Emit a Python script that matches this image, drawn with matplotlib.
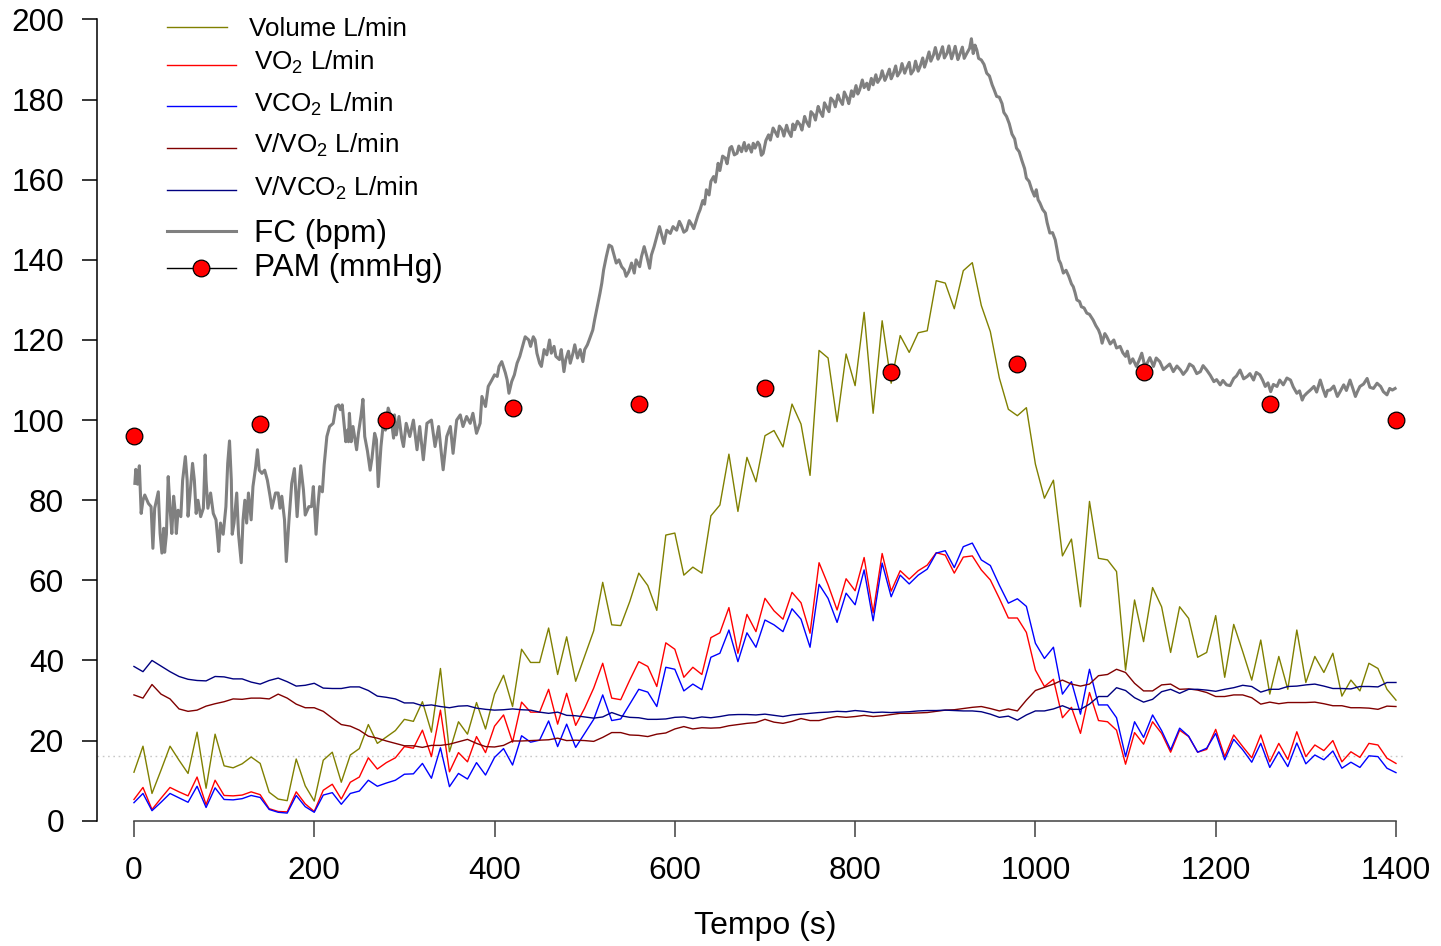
import matplotlib
matplotlib.use('Agg')
import matplotlib.pyplot as plt
from matplotlib.lines import Line2D
import numpy as np

plt.rcParams['font.family'] = ['Liberation Sans', 'DejaVu Sans']
plt.rcParams['mathtext.fontset'] = 'custom'
plt.rcParams['mathtext.rm'] = 'Liberation Sans'
plt.rcParams['mathtext.default'] = 'regular'

# ---------------- data ----------------
tempo = np.arange(0, 1401, 10)  # breath samples every 10 s

volume = [12.1, 18.6, 6.8, 12.6, 18.6, 15.1, 11.8, 22.1, 8.1, 21.6,
          13.7, 13.2, 14.2, 15.9, 14.3, 7.1, 5.4, 5.0, 15.4, 8.7,
          4.9, 15.1, 17.1, 9.6, 16.4, 18.0, 24.0, 19.3, 20.9, 22.5,
          25.3, 24.8, 29.7, 22.1, 38.0, 17.2, 24.7, 21.6, 29.5, 22.9,
          31.6, 36.3, 28.5, 42.8, 39.5, 39.5, 48.1, 36.5, 45.9, 34.8,
          41.1, 47.4, 59.5, 48.9, 48.7, 54.7, 61.8, 58.7, 52.5, 71.3,
          71.8, 61.3, 63.3, 61.8, 76.1, 78.8, 91.5, 77.2, 90.7, 84.6,
          96.1, 97.4, 93.3, 104.0, 99.0, 86.2, 117.4, 115.5, 99.6, 116.5,
          108.6, 126.9, 101.7, 124.8, 109.2, 121.1, 116.9, 121.8, 122.3, 134.8,
          134.2, 127.8, 137.3, 139.3, 128.6, 122.1, 110.5, 102.7, 101.1, 103.1,
          89.0, 80.5, 85.0, 66.1, 70.3, 53.4, 79.7, 65.5, 65.1, 62.2,
          37.6, 55.1, 44.7, 58.2, 53.4, 42.0, 53.4, 50.5, 40.8, 42.0,
          51.2, 35.8, 49.0, 42.2, 35.1, 45.1, 31.6, 41.0, 32.8, 47.6,
          34.5, 41.0, 37.0, 41.8, 31.1, 35.1, 32.4, 39.3, 38.0, 32.8,
          30.1]

vo2 = [5.3, 8.3, 2.8, 5.6, 8.3, 7.2, 6.2, 10.9, 4.0, 10.1,
       6.3, 6.2, 6.4, 7.2, 6.5, 3.0, 2.3, 2.2, 7.2, 4.2,
       2.3, 7.6, 9.1, 5.4, 9.6, 10.9, 15.7, 12.9, 14.5, 15.7,
       18.5, 18.1, 22.6, 16.0, 27.6, 12.2, 17.0, 14.7, 21.0, 17.0,
       23.6, 26.4, 19.6, 29.6, 27.1, 27.1, 32.8, 24.1, 31.8, 23.8,
       28.1, 33.1, 39.3, 30.6, 30.2, 35.1, 39.7, 38.5, 33.5, 44.4,
       42.8, 35.8, 38.3, 36.5, 45.7, 46.9, 53.2, 41.8, 51.5, 47.2,
       55.5, 52.4, 50.3, 57.0, 54.4, 46.8, 64.4, 58.9, 52.6, 60.4,
       57.4, 65.7, 51.9, 66.7, 57.3, 62.4, 60.3, 62.4, 63.8, 66.9,
       66.3, 61.8, 65.8, 66.1, 62.6, 60.1, 55.5, 50.6, 50.6, 47.0,
       37.6, 33.5, 35.3, 25.7, 28.3, 21.8, 32.0, 25.0, 24.7, 22.6,
       14.1, 22.0, 19.1, 24.7, 21.8, 17.1, 22.6, 21.0, 17.1, 17.8,
       22.8, 16.0, 21.4, 18.5, 15.7, 21.4, 14.7, 19.3, 15.3, 22.2,
       16.0, 18.9, 17.5, 20.0, 14.7, 17.2, 15.8, 19.3, 18.9, 15.6,
       14.3]

vco2 = [4.5, 6.8, 2.5, 4.6, 6.8, 5.7, 4.6, 8.6, 3.3, 8.2,
        5.3, 5.2, 5.5, 6.3, 5.8, 2.8, 2.1, 1.9, 6.3, 3.5,
        2.1, 6.4, 7.0, 4.1, 6.8, 7.4, 10.1, 8.6, 9.4, 10.1,
        11.6, 11.7, 14.3, 10.6, 18.2, 8.5, 11.8, 10.4, 14.5, 11.4,
        15.8, 18.0, 13.9, 21.2, 19.6, 20.1, 24.9, 18.5, 24.1, 18.3,
        21.8, 25.3, 31.4, 25.0, 25.4, 29.1, 32.8, 32.1, 28.5, 38.3,
        37.8, 32.4, 34.1, 32.7, 40.8, 41.8, 47.6, 39.7, 46.9, 43.3,
        50.1, 48.9, 47.2, 52.9, 50.3, 43.3, 59.0, 55.5, 49.5, 56.8,
        53.9, 62.6, 49.9, 64.3, 55.9, 61.3, 59.1, 61.3, 62.8, 66.8,
        67.4, 63.2, 68.4, 69.3, 65.1, 63.7, 58.8, 54.3, 55.4, 53.5,
        44.3, 40.5, 43.3, 31.6, 34.7, 26.6, 37.8, 28.9, 28.9, 25.7,
        16.0, 24.7, 20.8, 26.4, 22.5, 17.7, 23.1, 21.1, 17.1, 18.1,
        21.8, 15.2, 20.3, 17.7, 14.6, 19.3, 13.3, 17.2, 13.5, 19.4,
        14.2, 16.4, 15.2, 17.4, 13.1, 14.6, 13.3, 16.2, 16.0, 13.1,
        12.0]

v_vo2 = [31.4, 30.6, 34.0, 31.6, 30.4, 27.9, 27.3, 27.6, 28.6, 29.2,
         29.7, 30.4, 30.3, 30.6, 30.6, 30.4, 31.6, 30.6, 29.1, 28.2,
         28.2, 27.3, 25.6, 24.0, 23.6, 22.6, 21.1, 20.6, 19.9, 19.3,
         18.7, 18.7, 18.3, 18.8, 18.8, 19.1, 19.7, 20.3, 19.3, 18.5,
         18.4, 18.8, 19.9, 19.9, 20.0, 20.1, 20.2, 20.6, 20.0, 20.1,
         20.0, 19.8, 20.8, 22.0, 22.0, 21.4, 21.3, 21.0, 21.6, 21.9,
         22.9, 23.5, 22.9, 23.2, 23.1, 23.2, 23.7, 24.0, 24.3, 24.5,
         25.3, 24.6, 24.3, 24.8, 25.5, 25.0, 25.0, 25.6, 26.0, 25.8,
         26.0, 26.3, 26.0, 26.2, 26.5, 26.8, 26.8, 26.9, 27.0, 27.3,
         27.6, 27.7, 28.0, 28.3, 28.5, 28.0, 27.4, 27.9, 27.4, 30.1,
         32.5, 33.3, 34.1, 35.1, 34.1, 33.6, 34.1, 36.2, 36.5, 37.8,
         37.0, 34.3, 32.4, 32.4, 33.9, 34.1, 32.8, 32.9, 32.6, 32.0,
         31.0, 31.0, 31.4, 31.4, 30.7, 29.1, 29.6, 29.2, 29.5, 29.5,
         29.5, 29.6, 29.2, 28.7, 28.7, 28.2, 28.2, 28.1, 27.8, 28.6,
         28.5]

v_vco2 = [38.5, 37.2, 40.0, 38.6, 37.2, 36.0, 35.3, 35.0, 34.9, 36.0,
          35.9, 35.4, 35.4, 34.6, 34.1, 35.0, 35.6, 34.7, 33.6, 33.8,
          34.3, 33.1, 33.0, 33.0, 33.4, 33.4, 32.5, 31.1, 30.8, 30.4,
          29.4, 29.4, 28.7, 28.9, 28.5, 28.2, 28.6, 28.7, 28.1, 27.8,
          27.6, 27.7, 27.9, 27.7, 27.6, 27.1, 26.8, 27.1, 26.3, 26.2,
          25.9, 25.6, 25.9, 27.0, 26.2, 25.8, 25.7, 25.3, 25.3, 25.4,
          25.8, 25.9, 25.5, 25.9, 25.7, 26.0, 26.4, 26.5, 26.5, 26.4,
          26.6, 26.3, 26.0, 26.4, 26.6, 26.8, 27.0, 27.1, 27.3, 27.2,
          27.5, 27.3, 27.0, 27.1, 27.0, 27.1, 27.2, 27.4, 27.5, 27.5,
          27.6, 27.5, 27.4, 27.4, 27.2, 26.6, 25.8, 26.1, 25.1, 26.4,
          27.4, 27.4, 27.9, 28.7, 27.8, 27.8, 29.1, 31.0, 31.0, 33.2,
          32.5, 30.7, 29.6, 30.3, 32.2, 32.8, 31.8, 32.8, 32.8, 32.6,
          32.3, 32.8, 33.2, 33.8, 33.5, 32.1, 32.8, 32.8, 33.5, 33.6,
          33.9, 34.1, 33.6, 33.0, 33.0, 32.9, 33.5, 33.5, 33.4, 34.5,
          34.5]

# heart rate (time s, bpm)
fc_pontos = [
    (1, 84.2), (2, 87.7), (4, 84.0), (6, 88.6), (8, 76.7), (10, 80.0), (12, 81.3), (16, 79.2),
    (19, 78.4), (21, 68.0), (23, 78.0), (25, 80.0), (27, 82.1), (29, 71.7), (31, 66.8), (33, 73.0),
    (34, 67.0), (36, 71.5), (38, 85.9), (40, 78.0), (42, 71.7), (44, 81.0), (46, 76.7), (47, 71.7),
    (49, 77.5), (52, 75.9), (54, 85.0), (57, 90.9), (59, 85.0), (60, 76.0), (62, 81.0), (65, 89.2),
    (67, 85.0), (69, 76.7), (71, 80.0), (74, 75.9), (77, 78.0), (79, 91.3), (80, 85.0), (82, 78.0),
    (85, 81.8), (88, 76.7), (91, 75.1), (93, 70.1), (94, 67.2), (96, 74.3), (99, 71.5), (102, 78.4),
    (104, 89.2), (106, 94.8), (108, 85.0), (109, 71.5), (111, 74.3), (114, 81.8), (116, 71.5), (119, 64.4),
    (121, 75.1), (123, 80.0), (125, 74.3), (127, 81.8), (130, 75.1), (132, 83.4), (135, 88.3), (137, 92.6),
    (139, 87.5), (142, 86.7), (145, 87.5), (148, 85.0), (151, 81.0), (153, 78.0), (157, 81.8), (160, 81.8),
    (162, 78.0), (164, 81.0), (167, 75.1), (169, 64.7), (172, 75.1), (175, 84.2), (178, 87.9), (181, 75.9),
    (183, 82.6), (185, 88.6), (188, 82.6), (190, 76.3), (194, 78.4), (197, 78.4), (199, 83.4), (202, 71.5),
    (204, 78.4), (206, 83.4), (209, 82.1), (211, 88.8), (214, 95.9), (217, 98.4), (221, 99.2), (224, 103.4),
    (227, 103.8), (229, 102.6), (231, 103.8), (233, 99.2), (235, 94.6), (237, 97.5), (238, 94.6), (239, 101.7),
    (241, 94.6), (243, 98.4), (247, 92.6), (249, 96.7), (252, 101.3), (254, 105.2), (256, 95.9), (259, 92.3),
    (262, 87.5), (264, 90.4), (267, 96.7), (269, 95.1), (271, 83.4), (274, 93.4), (277, 100.0), (279, 97.5),
    (282, 103.0), (285, 100.9), (288, 95.5), (289, 101.3), (291, 96.3), (294, 100.9), (297, 95.5), (299, 93.4),
    (302, 99.2), (306, 95.9), (310, 100.0), (314, 92.6), (317, 98.4), (321, 90.1), (325, 99.2), (330, 100.0),
    (334, 93.4), (338, 98.4), (341, 91.7), (343, 87.6), (347, 95.9), (351, 98.4), (354, 91.7), (358, 100.0),
    (362, 101.3), (365, 98.4), (369, 100.9), (373, 99.2), (376, 101.7), (380, 96.7), (384, 99.2), (386, 105.9),
    (390, 103.4), (393, 108.4), (397, 110.0), (400, 111.3), (403, 110.9), (405, 113.4), (408, 114.6), (412, 111.8),
    (414, 110.0), (416, 106.7), (419, 109.6), (422, 111.3), (425, 114.2), (428, 115.9), (431, 118.4), (434, 120.8),
    (438, 120.0), (440, 118.4), (443, 120.8), (445, 120.0), (447, 116.7), (450, 114.2), (452, 113.4), (455, 117.6),
    (458, 116.3), (461, 120.0), (463, 116.7), (466, 118.4), (468, 115.9), (472, 115.1), (474, 117.6), (477, 112.1),
    (479, 115.1), (482, 117.2), (484, 114.2), (487, 116.7), (489, 118.8), (492, 115.5), (495, 117.6), (498, 114.6),
    (500, 117.6), (503, 118.8), (505, 120.0), (509, 122.5), (511, 125.0), (514, 128.3), (517, 131.7), (519, 134.2),
    (521, 137.5), (524, 140.8), (527, 143.7), (530, 143.3), (533, 140.8), (535, 139.2), (538, 140.0), (541, 138.3),
    (544, 137.5), (546, 135.9), (549, 137.1), (552, 139.2), (555, 136.7), (557, 140.0), (561, 138.3), (563, 140.8),
    (566, 143.3), (569, 140.8), (572, 137.9), (574, 141.2), (577, 143.3), (580, 145.8), (583, 148.3), (585, 146.6),
    (588, 144.1), (591, 147.4), (595, 146.6), (598, 148.3), (602, 147.4), (605, 149.6), (607, 148.7), (610, 146.9),
    (613, 147.4), (616, 149.8), (618, 149.1), (621, 147.8), (624, 150.0), (626, 151.4),
    (628, 152.5), (631, 154.8), (633, 153.9), (635, 157.5), (638, 156.2), (640, 159.6), (643, 160.8), (645, 159.4),
    (648, 164.1), (650, 162.3), (653, 165.9), (656, 165.4), (658, 164.0), (661, 167.9), (663, 168.3), (666, 166.2),
    (669, 166.6), (671, 168.4), (674, 167.0), (677, 169.3), (679, 167.2), (682, 168.7), (685, 166.9), (687, 169.1),
    (689, 167.9), (692, 169.4), (694, 168.7), (696, 166.1), (698, 166.6), (701, 169.8), (704, 171.2), (706, 169.9),
    (709, 172.9), (711, 172.1), (714, 170.8), (716, 173.4), (719, 172.5), (721, 170.9), (724, 173.6), (726, 172.1),
    (729, 170.8), (731, 173.9), (733, 172.5), (736, 174.6), (739, 173.7), (741, 172.4), (744, 175.8), (746, 174.5),
    (749, 173.3), (751, 177.0), (754, 176.2), (756, 174.9), (759, 178.3), (761, 177.1), (764, 175.8), (766, 179.2),
    (768, 178.3), (771, 177.0), (773, 180.4), (776, 179.6), (778, 178.2), (781, 181.2), (783, 180.0), (786, 178.8),
    (788, 181.9), (791, 180.4), (793, 179.0), (796, 182.2), (798, 180.8), (801, 183.5), (803, 181.4), (805, 182.4),
    (808, 184.9), (810, 183.0), (813, 184.1), (815, 182.5), (818, 185.3), (820, 183.7), (823, 186.2), (825, 184.3),
    (828, 185.4), (830, 187.2), (833, 184.8), (835, 185.8), (838, 187.6), (840, 185.2), (842, 186.2), (845, 188.4),
    (847, 185.9), (850, 187.0), (852, 189.0), (855, 186.6), (857, 187.8), (860, 189.3), (862, 186.4), (865, 187.4),
    (867, 189.6), (870, 187.1), (872, 188.2), (875, 190.4), (877, 188.1), (879, 189.5), (882, 191.9), (884, 189.6),
    (887, 191.2), (889, 193.0), (892, 190.1), (894, 191.2), (897, 193.2), (899, 190.4), (902, 191.6), (904, 193.4),
    (907, 190.2), (909, 191.6), (911, 193.3), (914, 190.0), (916, 191.2), (919, 193.1), (921, 190.3), (924, 191.6),
    (927, 192.8), (929, 195.2), (931, 191.5), (933, 193.6), (935, 192.4), (937, 190.3), (940, 189.9), (943, 188.8),
    (946, 186.6), (949, 185.9), (952, 183.7), (954, 182.6), (957, 180.8), (960, 180.6), (963, 179.0), (965, 176.8),
    (968, 175.8), (971, 174.0), (974, 171.4), (977, 170.2), (979, 167.9), (982, 167.0), (985, 164.8), (988, 162.8),
    (990, 160.4), (993, 159.6), (996, 157.5), (999, 155.9), (1001, 157.5), (1003, 155.0), (1005, 154.2), (1008, 152.6),
    (1011, 151.7), (1013, 149.3), (1016, 146.7), (1019, 146.8), (1022, 145.0), (1024, 142.6), (1026, 140.0), (1028, 139.1),
    (1031, 136.7), (1034, 137.4), (1037, 135.9), (1040, 134.0), (1042, 133.3), (1044, 131.8), (1046, 130.0), (1049, 129.6),
    (1051, 128.3), (1054, 128.0), (1057, 126.7), (1060, 126.4), (1064, 125.0), (1067, 123.6), (1070, 122.5), (1072, 121.3),
    (1074, 119.2), (1077, 121.6), (1079, 120.9), (1083, 119.0), (1087, 120.0), (1090, 118.0), (1094, 118.4), (1097, 116.8),
    (1100, 115.9), (1102, 117.2), (1105, 114.2), (1108, 115.3), (1112, 113.4), (1115, 114.9), (1118, 116.7), (1121, 113.8),
    (1124, 114.2), (1127, 115.6), (1131, 113.4), (1134, 115.5), (1138, 114.6), (1142, 112.6), (1146, 113.4), (1149, 114.0),
    (1153, 112.1), (1157, 113.5), (1161, 112.5), (1164, 111.4), (1168, 112.5), (1171, 114.0), (1175, 113.4), (1179, 111.6),
    (1183, 112.1), (1186, 113.6), (1190, 112.5), (1194, 111.2), (1198, 109.6), (1201, 110.1), (1205, 108.8), (1208, 109.9),
    (1212, 108.8), (1216, 108.6), (1220, 110.4), (1223, 111.0), (1227, 112.5), (1231, 110.3), (1235, 110.9), (1238, 111.6),
    (1242, 110.0), (1245, 111.9), (1249, 111.3), (1252, 110.0), (1255, 108.4), (1258, 109.3), (1261, 107.1), (1264, 108.9),
    (1268, 108.4), (1271, 110.0), (1275, 108.8), (1279, 110.5), (1283, 110.0), (1286, 108.3), (1290, 106.7), (1293, 107.3),
    (1296, 105.0), (1298, 106.0), (1301, 106.7), (1305, 107.5), (1309, 108.4), (1312, 107.0), (1316, 110.0), (1319, 107.8),
    (1322, 105.9), (1324, 107.4), (1327, 107.5), (1331, 108.5), (1335, 105.9), (1338, 107.1), (1342, 108.8), (1345, 107.4),
    (1349, 110.0), (1352, 108.0), (1355, 105.9), (1357, 107.0), (1360, 108.4), (1364, 109.0), (1368, 110.4), (1371, 108.2),
    (1375, 107.9), (1379, 109.2), (1383, 108.4), (1386, 107.1), (1390, 106.3), (1393, 107.9), (1396, 107.5), (1399, 107.9),
]

pam_tempo = [0, 140, 280, 420, 560, 700, 840, 980, 1120, 1260, 1400]
pam = [96, 99, 100, 103, 104, 108, 112, 114, 112, 104, 100]

limiar = 16.2  # dotted reference line

# ---------------- figure ----------------
W, H = 1441, 946
fig = plt.figure(figsize=(W / 100, H / 100), dpi=100, facecolor='white')
ax = fig.add_axes([97 / W, (H - 820.7) / H, (1409.5 - 97) / W, (820.7 - 19.5) / H])
ax.set_xlim(-41, 1415)
ax.set_ylim(0, 200)

fc_t = [p[0] for p in fc_pontos]
fc_v = [p[1] for p in fc_pontos]

ax.axhline(limiar, xmin=0, xmax=(1408 + 41) / 1456, color='#c8c8c8', lw=1.0,
           ls=(0, (1.2, 2.6)), zorder=1)

ax.plot(tempo, volume, color='#808000', lw=1.0, zorder=2)
ax.plot(tempo, vo2, color='#ff0000', lw=1.0, zorder=2)
ax.plot(tempo, vco2, color='#0000ff', lw=1.0, zorder=2)
ax.plot(tempo, v_vo2, color='#800000', lw=1.0, zorder=2)
ax.plot(tempo, v_vco2, color='#000080', lw=1.0, zorder=2)
ax.plot(fc_t, fc_v, color='#808080', lw=2.2, zorder=3)
ax.plot(pam_tempo, pam, 'o', ms=12, mfc='#ff0000', mec='black', mew=0.9, zorder=5)

for s in ['top', 'right']:
    ax.spines[s].set_visible(False)
ax.spines['left'].set_bounds(0, 200)
ax.spines['bottom'].set_bounds(0, 1400)
ax.spines['left'].set_linewidth(1.1)
ax.spines['bottom'].set_linewidth(1.1)
ax.spines['bottom'].set_color('#404040')

ax.set_xticks(range(0, 1401, 200))
ax.set_yticks(range(0, 201, 20))
ax.tick_params(axis='x', direction='out', length=11.5, width=1.1, pad=14,
               labelsize=22.7, color='#404040')
ax.tick_params(axis='y', direction='out', length=10.8, width=1.1, pad=13,
               labelsize=22.7)

ax.set_xlabel('Tempo (s)', fontsize=23)
ax.xaxis.set_label_coords((765 - 97) / 1312.5, (820.7 - 911) / 801.2)

# ---------------- legend (drawn by hand to keep the spacing) ----------------
def fx(px):
    return px / W


def fy(py):
    return 1 - py / H


legenda = [
    ('Volume L/min', '#808000', 27, 35.7, 249, 227, 18.8, 1.0),
    ('VO$_2$ L/min', '#ff0000', 65, 70, 254, 236, 18.8, 1.0),
    ('VCO$_2$ L/min', '#0000ff', 106, 111.7, 254, 236, 18.8, 1.0),
    ('V/VO$_2$ L/min', '#800000', 148, 153.3, 254, 236, 18.8, 1.0),
    ('V/VCO$_2$ L/min', '#000080', 190, 195.7, 254, 236, 18.8, 1.0),
    ('FC (bpm)', '#808080', 231, 242.3, 254, 236, 22.7, 2.2),
    ('PAM (mmHg)', 'black', 268, 275.7, 254, 236, 22.7, 1.0),
]
for texto, cor, ly, by, tx, x2, fs, lw in legenda:
    fig.add_artist(Line2D([fx(167), fx(x2)], [fy(ly), fy(ly)], color=cor, lw=lw,
                          transform=fig.transFigure))
    fig.text(fx(tx), fy(by), texto, fontsize=fs, va='baseline', ha='left')
fig.add_artist(Line2D([fx(201)], [fy(268)], marker='o', ms=12, mfc='#ff0000',
                      mec='black', mew=0.9, transform=fig.transFigure))

fig.savefig('out.png', dpi=100, facecolor='white')
